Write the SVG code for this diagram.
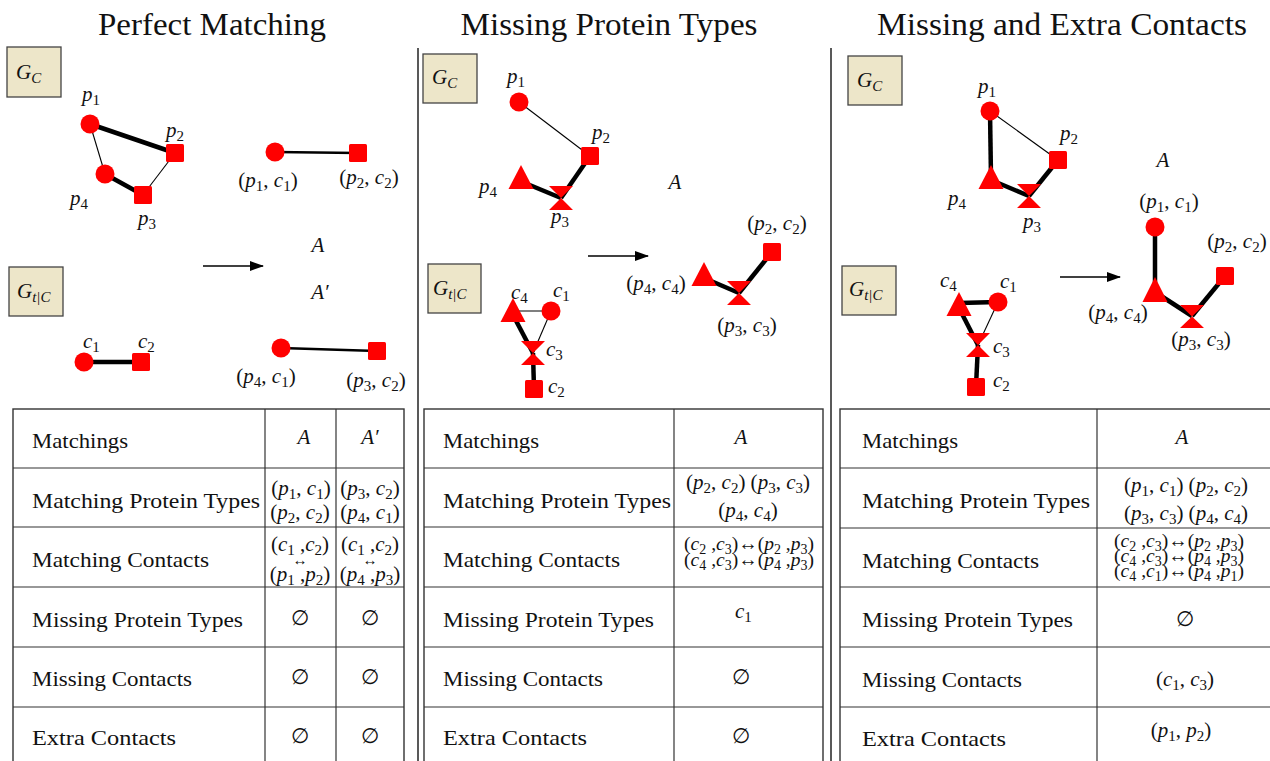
<svg xmlns="http://www.w3.org/2000/svg" width="1270" height="761" viewBox="0 0 1270 761">
<style>
.t{font-family:"Liberation Serif","DejaVu Serif",serif;font-size:21px;fill:#111}
.ttl{font-family:"Liberation Serif",serif;font-size:31px;fill:#111}
.i{font-style:italic}
.s{font-size:15px}
.c{font-size:19.5px}
.c .s{font-size:14px}
.ar{font-size:15px}
.box{fill:#ede6c9;stroke:#444;stroke-width:1.3}
.nd{fill:#ff0000}
.thin{stroke:#000;stroke-width:1.1;fill:none}
.mid{stroke:#000;stroke-width:2.6;fill:none}
.thk{stroke:#000;stroke-width:4.5;fill:none}
.tb{fill:none;stroke:#333;stroke-width:1.4}
.tl{stroke:#333;stroke-width:1.2}
.dv{stroke:#222;stroke-width:1.5}
</style>
<defs>
<marker id="ah" viewBox="0 0 14 10" refX="13" refY="5" markerWidth="14" markerHeight="10" markerUnits="userSpaceOnUse" orient="auto"><path d="M0,0 L14,5 L0,10 Z" fill="#000"/></marker>
</defs>
<rect width="1270" height="761" fill="#fff"/>

<g id="titles">
<text class="ttl" x="212" y="35" text-anchor="middle" textLength="228" lengthAdjust="spacingAndGlyphs">Perfect Matching</text>
<text class="ttl" x="609" y="35" text-anchor="middle" textLength="297" lengthAdjust="spacingAndGlyphs">Missing Protein Types</text>
<text class="ttl" x="1062" y="35" text-anchor="middle" textLength="370" lengthAdjust="spacingAndGlyphs">Missing and Extra Contacts</text>
</g>
<g id="dividers">
<line class="dv" x1="418" y1="48" x2="418" y2="761"/>
<line class="dv" x1="831" y1="48" x2="831" y2="761"/>
</g>

<!-- ============ Panel 1 ============ -->
<g id="p1-connectors">
<line class="thk" x1="90" y1="124" x2="175" y2="153"/>
<line class="thin" x1="90" y1="124" x2="105" y2="174"/>
<line class="thk" x1="105" y1="174" x2="143" y2="195"/>
<line class="thin" x1="143" y1="195" x2="175" y2="153"/>
<line class="mid" x1="275" y1="152" x2="358" y2="153"/>
<line class="thk" x1="84" y1="362" x2="141" y2="362"/>
<line class="mid" x1="281" y1="348" x2="377" y2="351"/>
<line stroke="#000" stroke-width="1.3" x1="203" y1="266" x2="263" y2="266" marker-end="url(#ah)"/>
</g>
<g id="p1-gc"><rect class="box" x="7" y="47" width="54" height="50"/><text class="t" x="16" y="79"><tspan class="i">G</tspan><tspan class="s i" dy="4">C</tspan></text></g>
<g id="p1-gtc"><rect class="box" x="9" y="267" width="54" height="49"/><text class="t" x="17" y="298"><tspan class="i">G</tspan><tspan class="s i" dy="4">t|C</tspan></text></g>
<g id="p1-n-p1"><circle class="nd" cx="90" cy="124" r="9.5"/><text class="t" x="82" y="101"><tspan class="i">p</tspan><tspan class="s" dy="4">1</tspan></text></g>
<g id="p1-n-p2"><rect class="nd" x="166" y="144" width="18" height="18" rx="1.5"/><text class="t" x="166" y="137"><tspan class="i">p</tspan><tspan class="s" dy="4">2</tspan></text></g>
<g id="p1-n-p4"><circle class="nd" cx="105" cy="174" r="9.5"/><text class="t" x="70" y="205"><tspan class="i">p</tspan><tspan class="s" dy="4">4</tspan></text></g>
<g id="p1-n-p3"><rect class="nd" x="134" y="186" width="18" height="18" rx="1.5"/><text class="t" x="138" y="225"><tspan class="i">p</tspan><tspan class="s" dy="4">3</tspan></text></g>
<g id="p1-n-p1c1"><circle class="nd" cx="275" cy="152" r="9.5"/><text class="t" x="268" y="187" text-anchor="middle">(<tspan class="i">p</tspan><tspan class="s" dy="4">1</tspan><tspan dy="-4">, </tspan><tspan class="i">c</tspan><tspan class="s" dy="4">1</tspan><tspan dy="-4">)</tspan></text></g>
<g id="p1-n-p2c2"><rect class="nd" x="349" y="144" width="18" height="18" rx="1.5"/><text class="t" x="369" y="184" text-anchor="middle">(<tspan class="i">p</tspan><tspan class="s" dy="4">2</tspan><tspan dy="-4">, </tspan><tspan class="i">c</tspan><tspan class="s" dy="4">2</tspan><tspan dy="-4">)</tspan></text></g>
<g id="p1-lbl-A"><text class="t i" x="318" y="252" text-anchor="middle">A</text></g>
<g id="p1-lbl-A2"><text class="t i" x="320" y="299" text-anchor="middle">A′</text></g>
<g id="p1-n-c1"><circle class="nd" cx="84" cy="362" r="9.5"/><text class="t" x="83" y="348"><tspan class="i">c</tspan><tspan class="s" dy="4">1</tspan></text></g>
<g id="p1-n-c2"><rect class="nd" x="132" y="353" width="18" height="18" rx="1.5"/><text class="t" x="138" y="348"><tspan class="i">c</tspan><tspan class="s" dy="4">2</tspan></text></g>
<g id="p1-n-p4c1"><circle class="nd" cx="281" cy="348" r="9.5"/><text class="t" x="266" y="383" text-anchor="middle">(<tspan class="i">p</tspan><tspan class="s" dy="4">4</tspan><tspan dy="-4">, </tspan><tspan class="i">c</tspan><tspan class="s" dy="4">1</tspan><tspan dy="-4">)</tspan></text></g>
<g id="p1-n-p3c2"><rect class="nd" x="368" y="342" width="18" height="18" rx="1.5"/><text class="t" x="376" y="387" text-anchor="middle">(<tspan class="i">p</tspan><tspan class="s" dy="4">3</tspan><tspan dy="-4">, </tspan><tspan class="i">c</tspan><tspan class="s" dy="4">2</tspan><tspan dy="-4">)</tspan></text></g>

<!-- ============ Panel 2 ============ -->
<g id="p2-connectors">
<line class="thin" x1="519" y1="102" x2="590" y2="156"/>
<line class="thk" x1="590" y1="156" x2="561" y2="198"/>
<line class="thk" x1="520" y1="181" x2="561" y2="198"/>
<line class="thin" x1="513" y1="311" x2="551" y2="311"/>
<line class="thin" x1="551" y1="311" x2="533" y2="353"/>
<line class="thk" x1="513" y1="315" x2="533" y2="353"/>
<line class="thk" x1="533" y1="353" x2="534" y2="389"/>
<line class="thk" x1="704" y1="278" x2="739" y2="293"/>
<line class="thk" x1="739" y1="293" x2="772" y2="252"/>
<line stroke="#000" stroke-width="1.3" x1="588" y1="256" x2="648" y2="256" marker-end="url(#ah)"/>
</g>
<g id="p2-gc"><rect class="box" x="423" y="54" width="54" height="49"/><text class="t" x="432" y="84"><tspan class="i">G</tspan><tspan class="s i" dy="4">C</tspan></text></g>
<g id="p2-gtc"><rect class="box" x="428" y="264" width="53" height="49"/><text class="t" x="433" y="295"><tspan class="i">G</tspan><tspan class="s i" dy="4">t|C</tspan></text></g>
<g id="p2-n-p1"><circle class="nd" cx="519" cy="102" r="9.5"/><text class="t" x="507" y="83"><tspan class="i">p</tspan><tspan class="s" dy="4">1</tspan></text></g>
<g id="p2-n-p2"><rect class="nd" x="581" y="147" width="18" height="18" rx="1.5"/><text class="t" x="592" y="139"><tspan class="i">p</tspan><tspan class="s" dy="4">2</tspan></text></g>
<g id="p2-n-p4"><path class="nd" d="M521,165 L533.5,189 L508.5,189 Z"/><text class="t" x="479" y="193"><tspan class="i">p</tspan><tspan class="s" dy="4">4</tspan></text></g>
<g id="p2-n-p3"><path class="nd" d="M549,186 L573,186 L561,198 Z M549,210 L573,210 L561,198 Z"/><text class="t" x="551" y="223"><tspan class="i">p</tspan><tspan class="s" dy="4">3</tspan></text></g>
<g id="p2-lbl-A"><text class="t i" x="675" y="189" text-anchor="middle">A</text></g>
<g id="p2-n-c4"><path class="nd" d="M513,298 L525.5,322 L500.5,322 Z"/><text class="t" x="511" y="299"><tspan class="i">c</tspan><tspan class="s" dy="4">4</tspan></text></g>
<g id="p2-n-c1"><circle class="nd" cx="551" cy="311" r="9.5"/><text class="t" x="553" y="297"><tspan class="i">c</tspan><tspan class="s" dy="4">1</tspan></text></g>
<g id="p2-n-c3"><path class="nd" d="M521,341 L545,341 L533,353 Z M521,365 L545,365 L533,353 Z"/><text class="t" x="546" y="356"><tspan class="i">c</tspan><tspan class="s" dy="4">3</tspan></text></g>
<g id="p2-n-c2"><rect class="nd" x="525" y="380" width="18" height="18" rx="1.5"/><text class="t" x="548" y="393"><tspan class="i">c</tspan><tspan class="s" dy="4">2</tspan></text></g>
<g id="p2-n-p2c2"><rect class="nd" x="763" y="243" width="18" height="18" rx="1.5"/><text class="t" x="777" y="230" text-anchor="middle">(<tspan class="i">p</tspan><tspan class="s" dy="4">2</tspan><tspan dy="-4">, </tspan><tspan class="i">c</tspan><tspan class="s" dy="4">2</tspan><tspan dy="-4">)</tspan></text></g>
<g id="p2-n-p4c4"><path class="nd" d="M704,262 L716.5,286 L691.5,286 Z"/><text class="t" x="656" y="290" text-anchor="middle">(<tspan class="i">p</tspan><tspan class="s" dy="4">4</tspan><tspan dy="-4">, </tspan><tspan class="i">c</tspan><tspan class="s" dy="4">4</tspan><tspan dy="-4">)</tspan></text></g>
<g id="p2-n-p3c3"><path class="nd" d="M727,281 L751,281 L739,293 Z M727,305 L751,305 L739,293 Z"/><text class="t" x="747" y="332" text-anchor="middle">(<tspan class="i">p</tspan><tspan class="s" dy="4">3</tspan><tspan dy="-4">, </tspan><tspan class="i">c</tspan><tspan class="s" dy="4">3</tspan><tspan dy="-4">)</tspan></text></g>

<!-- ============ Panel 3 ============ -->
<g id="p3-connectors">
<line class="thin" x1="990" y1="111" x2="1058" y2="160"/>
<line class="thk" x1="990" y1="111" x2="991" y2="178"/>
<line class="thk" x1="991" y1="180" x2="1029" y2="196"/>
<line class="thk" x1="1058" y1="160" x2="1029" y2="196"/>
<line class="thk" x1="959" y1="303" x2="998" y2="302"/>
<line class="thin" x1="998" y1="302" x2="978" y2="345"/>
<line class="thk" x1="959" y1="308" x2="978" y2="345"/>
<line class="thk" x1="978" y1="345" x2="976" y2="386"/>
<line class="thk" x1="1155" y1="227" x2="1155" y2="290"/>
<line class="thk" x1="1155" y1="292" x2="1192" y2="316"/>
<line class="thk" x1="1192" y1="316" x2="1225" y2="276"/>
<line stroke="#000" stroke-width="1.3" x1="1060" y1="277" x2="1120" y2="277" marker-end="url(#ah)"/>
</g>
<g id="p3-gc"><rect class="box" x="848" y="56" width="54" height="49"/><text class="t" x="857" y="87"><tspan class="i">G</tspan><tspan class="s i" dy="4">C</tspan></text></g>
<g id="p3-gtc"><rect class="box" x="842" y="266" width="54" height="49"/><text class="t" x="849" y="296"><tspan class="i">G</tspan><tspan class="s i" dy="4">t|C</tspan></text></g>
<g id="p3-n-p1"><circle class="nd" cx="990" cy="111" r="9.5"/><text class="t" x="978" y="93"><tspan class="i">p</tspan><tspan class="s" dy="4">1</tspan></text></g>
<g id="p3-n-p2"><rect class="nd" x="1049" y="151" width="18" height="18" rx="1.5"/><text class="t" x="1060" y="140"><tspan class="i">p</tspan><tspan class="s" dy="4">2</tspan></text></g>
<g id="p3-n-p4"><path class="nd" d="M991,165 L1003.5,189 L978.5,189 Z"/><text class="t" x="948" y="205"><tspan class="i">p</tspan><tspan class="s" dy="4">4</tspan></text></g>
<g id="p3-n-p3"><path class="nd" d="M1017,184 L1041,184 L1029,196 Z M1017,208 L1041,208 L1029,196 Z"/><text class="t" x="1023" y="228"><tspan class="i">p</tspan><tspan class="s" dy="4">3</tspan></text></g>
<g id="p3-lbl-A"><text class="t i" x="1163" y="167" text-anchor="middle">A</text></g>
<g id="p3-n-c4"><path class="nd" d="M959,292 L971.5,316 L946.5,316 Z"/><text class="t" x="940" y="287"><tspan class="i">c</tspan><tspan class="s" dy="4">4</tspan></text></g>
<g id="p3-n-c1"><circle class="nd" cx="998" cy="302" r="9.5"/><text class="t" x="1000" y="288"><tspan class="i">c</tspan><tspan class="s" dy="4">1</tspan></text></g>
<g id="p3-n-c3"><path class="nd" d="M966,333 L990,333 L978,345 Z M966,357 L990,357 L978,345 Z"/><text class="t" x="993" y="353"><tspan class="i">c</tspan><tspan class="s" dy="4">3</tspan></text></g>
<g id="p3-n-c2"><rect class="nd" x="967" y="378" width="18" height="18" rx="1.5"/><text class="t" x="993" y="387"><tspan class="i">c</tspan><tspan class="s" dy="4">2</tspan></text></g>
<g id="p3-n-p1c1"><circle class="nd" cx="1155" cy="227" r="9.5"/><text class="t" x="1169" y="208" text-anchor="middle">(<tspan class="i">p</tspan><tspan class="s" dy="4">1</tspan><tspan dy="-4">, </tspan><tspan class="i">c</tspan><tspan class="s" dy="4">1</tspan><tspan dy="-4">)</tspan></text></g>
<g id="p3-n-p2c2"><rect class="nd" x="1216" y="267" width="18" height="18" rx="1.5"/><text class="t" x="1237" y="248" text-anchor="middle">(<tspan class="i">p</tspan><tspan class="s" dy="4">2</tspan><tspan dy="-4">, </tspan><tspan class="i">c</tspan><tspan class="s" dy="4">2</tspan><tspan dy="-4">)</tspan></text></g>
<g id="p3-n-p4c4"><path class="nd" d="M1155,277 L1167.5,302 L1142.5,302 Z"/><text class="t" x="1118" y="319" text-anchor="middle">(<tspan class="i">p</tspan><tspan class="s" dy="4">4</tspan><tspan dy="-4">, </tspan><tspan class="i">c</tspan><tspan class="s" dy="4">4</tspan><tspan dy="-4">)</tspan></text></g>
<g id="p3-n-p3c3"><path class="nd" d="M1180,305 L1204,305 L1192,316.5 Z M1180,328 L1204,328 L1192,316.5 Z"/><text class="t" x="1201" y="346" text-anchor="middle">(<tspan class="i">p</tspan><tspan class="s" dy="4">3</tspan><tspan dy="-4">, </tspan><tspan class="i">c</tspan><tspan class="s" dy="4">3</tspan><tspan dy="-4">)</tspan></text></g>

<!-- ============ Table 1 ============ -->
<g id="table1">
<rect class="tb" x="13" y="409" width="391" height="360"/>
<line class="tl" x1="265" y1="409" x2="265" y2="761"/>
<line class="tl" x1="336" y1="409" x2="336" y2="761"/>
<line class="tl" x1="13" y1="468" x2="404" y2="468"/>
<line class="tl" x1="13" y1="527" x2="404" y2="527"/>
<line class="tl" x1="13" y1="587" x2="404" y2="587"/>
<line class="tl" x1="13" y1="647" x2="404" y2="647"/>
<line class="tl" x1="13" y1="707" x2="404" y2="707"/>
<text class="t" x="32" y="448" textLength="96" lengthAdjust="spacingAndGlyphs">Matchings</text>
<text class="t" x="32" y="508" textLength="228" lengthAdjust="spacingAndGlyphs">Matching Protein Types</text>
<text class="t" x="32" y="567" textLength="177" lengthAdjust="spacingAndGlyphs">Matching Contacts</text>
<text class="t" x="32" y="627" textLength="211" lengthAdjust="spacingAndGlyphs">Missing Protein Types</text>
<text class="t" x="32" y="686" textLength="160" lengthAdjust="spacingAndGlyphs">Missing Contacts</text>
<text class="t" x="32" y="745" textLength="144" lengthAdjust="spacingAndGlyphs">Extra Contacts</text>
<text class="t i" x="304" y="444" text-anchor="middle">A</text>
<text class="t i" x="370" y="444" text-anchor="middle">A′</text>
<text class="t" x="301" y="495" text-anchor="middle">(<tspan class="i">p</tspan><tspan class="s" dy="4">1</tspan><tspan dy="-4">, </tspan><tspan class="i">c</tspan><tspan class="s" dy="4">1</tspan><tspan dy="-4">)</tspan></text>
<text class="t" x="300" y="519" text-anchor="middle">(<tspan class="i">p</tspan><tspan class="s" dy="4">2</tspan><tspan dy="-4">, </tspan><tspan class="i">c</tspan><tspan class="s" dy="4">2</tspan><tspan dy="-4">)</tspan></text>
<text class="t" x="370" y="495" text-anchor="middle">(<tspan class="i">p</tspan><tspan class="s" dy="4">3</tspan><tspan dy="-4">, </tspan><tspan class="i">c</tspan><tspan class="s" dy="4">2</tspan><tspan dy="-4">)</tspan></text>
<text class="t" x="370" y="519" text-anchor="middle">(<tspan class="i">p</tspan><tspan class="s" dy="4">4</tspan><tspan dy="-4">, </tspan><tspan class="i">c</tspan><tspan class="s" dy="4">1</tspan><tspan dy="-4">)</tspan></text>
<text class="t" x="300" y="551" text-anchor="middle">(<tspan class="i">c</tspan><tspan class="s" dy="4">1</tspan><tspan dy="-4"> ,</tspan><tspan class="i">c</tspan><tspan class="s" dy="4">2</tspan><tspan dy="-4">)</tspan></text>
<text class="t ar" x="300" y="565" text-anchor="middle">↔</text>
<text class="t" x="300" y="581" text-anchor="middle">(<tspan class="i">p</tspan><tspan class="s" dy="4">1</tspan><tspan dy="-4"> ,</tspan><tspan class="i">p</tspan><tspan class="s" dy="4">2</tspan><tspan dy="-4">)</tspan></text>
<text class="t" x="370" y="551" text-anchor="middle">(<tspan class="i">c</tspan><tspan class="s" dy="4">1</tspan><tspan dy="-4"> ,</tspan><tspan class="i">c</tspan><tspan class="s" dy="4">2</tspan><tspan dy="-4">)</tspan></text>
<text class="t ar" x="370" y="565" text-anchor="middle">↔</text>
<text class="t" x="370" y="581" text-anchor="middle">(<tspan class="i">p</tspan><tspan class="s" dy="4">4</tspan><tspan dy="-4"> ,</tspan><tspan class="i">p</tspan><tspan class="s" dy="4">3</tspan><tspan dy="-4">)</tspan></text>
<text class="t" x="300" y="625" text-anchor="middle">∅</text>
<text class="t" x="370" y="625" text-anchor="middle">∅</text>
<text class="t" x="300" y="684" text-anchor="middle">∅</text>
<text class="t" x="370" y="684" text-anchor="middle">∅</text>
<text class="t" x="300" y="743" text-anchor="middle">∅</text>
<text class="t" x="370" y="743" text-anchor="middle">∅</text>
</g>

<!-- ============ Table 2 ============ -->
<g id="table2">
<rect class="tb" x="424" y="409" width="399" height="360"/>
<line class="tl" x1="674" y1="409" x2="674" y2="761"/>
<line class="tl" x1="424" y1="468" x2="823" y2="468"/>
<line class="tl" x1="424" y1="527" x2="823" y2="527"/>
<line class="tl" x1="424" y1="587" x2="823" y2="587"/>
<line class="tl" x1="424" y1="647" x2="823" y2="647"/>
<line class="tl" x1="424" y1="707" x2="823" y2="707"/>
<text class="t" x="443" y="448" textLength="96" lengthAdjust="spacingAndGlyphs">Matchings</text>
<text class="t" x="443" y="508" textLength="228" lengthAdjust="spacingAndGlyphs">Matching Protein Types</text>
<text class="t" x="443" y="567" textLength="177" lengthAdjust="spacingAndGlyphs">Matching Contacts</text>
<text class="t" x="443" y="627" textLength="211" lengthAdjust="spacingAndGlyphs">Missing Protein Types</text>
<text class="t" x="443" y="686" textLength="160" lengthAdjust="spacingAndGlyphs">Missing Contacts</text>
<text class="t" x="443" y="745" textLength="144" lengthAdjust="spacingAndGlyphs">Extra Contacts</text>
<text class="t i" x="741" y="444" text-anchor="middle">A</text>
<text class="t" x="748" y="489" text-anchor="middle">(<tspan class="i">p</tspan><tspan class="s" dy="4">2</tspan><tspan dy="-4">, </tspan><tspan class="i">c</tspan><tspan class="s" dy="4">2</tspan><tspan dy="-4">)  (</tspan><tspan class="i">p</tspan><tspan class="s" dy="4">3</tspan><tspan dy="-4">, </tspan><tspan class="i">c</tspan><tspan class="s" dy="4">3</tspan><tspan dy="-4">)</tspan></text>
<text class="t" x="748" y="517" text-anchor="middle">(<tspan class="i">p</tspan><tspan class="s" dy="4">4</tspan><tspan dy="-4">, </tspan><tspan class="i">c</tspan><tspan class="s" dy="4">4</tspan><tspan dy="-4">)</tspan></text>
<text class="t c" x="749" y="550" text-anchor="middle">(<tspan class="i">c</tspan><tspan class="s" dy="4">2</tspan><tspan dy="-4"> ,</tspan><tspan class="i">c</tspan><tspan class="s" dy="4">3</tspan><tspan dy="-4">)↔(</tspan><tspan class="i">p</tspan><tspan class="s" dy="4">2</tspan><tspan dy="-4"> ,</tspan><tspan class="i">p</tspan><tspan class="s" dy="4">3</tspan><tspan dy="-4">)</tspan></text>
<text class="t c" x="749" y="566" text-anchor="middle">(<tspan class="i">c</tspan><tspan class="s" dy="4">4</tspan><tspan dy="-4"> ,</tspan><tspan class="i">c</tspan><tspan class="s" dy="4">3</tspan><tspan dy="-4">)↔(</tspan><tspan class="i">p</tspan><tspan class="s" dy="4">4</tspan><tspan dy="-4"> ,</tspan><tspan class="i">p</tspan><tspan class="s" dy="4">3</tspan><tspan dy="-4">)</tspan></text>
<text class="t" x="735" y="618"><tspan class="i">c</tspan><tspan class="s" dy="4">1</tspan></text>
<text class="t" x="741" y="684" text-anchor="middle">∅</text>
<text class="t" x="741" y="743" text-anchor="middle">∅</text>
</g>

<!-- ============ Table 3 ============ -->
<g id="table3">
<rect class="tb" x="840" y="409" width="440" height="360"/>
<line class="tl" x1="1097" y1="409" x2="1097" y2="761"/>
<line class="tl" x1="840" y1="468" x2="1270" y2="468"/>
<line class="tl" x1="840" y1="528" x2="1270" y2="528"/>
<line class="tl" x1="840" y1="587" x2="1270" y2="587"/>
<line class="tl" x1="840" y1="647" x2="1270" y2="647"/>
<line class="tl" x1="840" y1="707" x2="1270" y2="707"/>
<text class="t" x="862" y="448" textLength="96" lengthAdjust="spacingAndGlyphs">Matchings</text>
<text class="t" x="862" y="508" textLength="228" lengthAdjust="spacingAndGlyphs">Matching Protein Types</text>
<text class="t" x="862" y="568" textLength="177" lengthAdjust="spacingAndGlyphs">Matching Contacts</text>
<text class="t" x="862" y="627" textLength="211" lengthAdjust="spacingAndGlyphs">Missing Protein Types</text>
<text class="t" x="862" y="687" textLength="160" lengthAdjust="spacingAndGlyphs">Missing Contacts</text>
<text class="t" x="862" y="746" textLength="144" lengthAdjust="spacingAndGlyphs">Extra Contacts</text>
<text class="t i" x="1182" y="444" text-anchor="middle">A</text>
<text class="t" x="1186" y="492" text-anchor="middle">(<tspan class="i">p</tspan><tspan class="s" dy="4">1</tspan><tspan dy="-4">, </tspan><tspan class="i">c</tspan><tspan class="s" dy="4">1</tspan><tspan dy="-4">)  (</tspan><tspan class="i">p</tspan><tspan class="s" dy="4">2</tspan><tspan dy="-4">, </tspan><tspan class="i">c</tspan><tspan class="s" dy="4">2</tspan><tspan dy="-4">)</tspan></text>
<text class="t" x="1186" y="520" text-anchor="middle">(<tspan class="i">p</tspan><tspan class="s" dy="4">3</tspan><tspan dy="-4">, </tspan><tspan class="i">c</tspan><tspan class="s" dy="4">3</tspan><tspan dy="-4">) (</tspan><tspan class="i">p</tspan><tspan class="s" dy="4">4</tspan><tspan dy="-4">, </tspan><tspan class="i">c</tspan><tspan class="s" dy="4">4</tspan><tspan dy="-4">)</tspan></text>
<text class="t c" x="1179" y="547" text-anchor="middle">(<tspan class="i">c</tspan><tspan class="s" dy="4">2</tspan><tspan dy="-4"> ,</tspan><tspan class="i">c</tspan><tspan class="s" dy="4">3</tspan><tspan dy="-4">)↔(</tspan><tspan class="i">p</tspan><tspan class="s" dy="4">2</tspan><tspan dy="-4"> ,</tspan><tspan class="i">p</tspan><tspan class="s" dy="4">3</tspan><tspan dy="-4">)</tspan></text>
<text class="t c" x="1179" y="562" text-anchor="middle">(<tspan class="i">c</tspan><tspan class="s" dy="4">4</tspan><tspan dy="-4"> ,</tspan><tspan class="i">c</tspan><tspan class="s" dy="4">3</tspan><tspan dy="-4">)↔(</tspan><tspan class="i">p</tspan><tspan class="s" dy="4">4</tspan><tspan dy="-4"> ,</tspan><tspan class="i">p</tspan><tspan class="s" dy="4">3</tspan><tspan dy="-4">)</tspan></text>
<text class="t c" x="1179" y="577" text-anchor="middle">(<tspan class="i">c</tspan><tspan class="s" dy="4">4</tspan><tspan dy="-4"> ,</tspan><tspan class="i">c</tspan><tspan class="s" dy="4">1</tspan><tspan dy="-4">)↔(</tspan><tspan class="i">p</tspan><tspan class="s" dy="4">4</tspan><tspan dy="-4"> ,</tspan><tspan class="i">p</tspan><tspan class="s" dy="4">1</tspan><tspan dy="-4">)</tspan></text>
<text class="t" x="1185" y="626" text-anchor="middle">∅</text>
<text class="t" x="1185" y="686" text-anchor="middle">(<tspan class="i">c</tspan><tspan class="s" dy="4">1</tspan><tspan dy="-4">, </tspan><tspan class="i">c</tspan><tspan class="s" dy="4">3</tspan><tspan dy="-4">)</tspan></text>
<text class="t" x="1181" y="737" text-anchor="middle">(<tspan class="i">p</tspan><tspan class="s" dy="4">1</tspan><tspan dy="-4">, </tspan><tspan class="i">p</tspan><tspan class="s" dy="4">2</tspan><tspan dy="-4">)</tspan></text>
</g>
</svg>
